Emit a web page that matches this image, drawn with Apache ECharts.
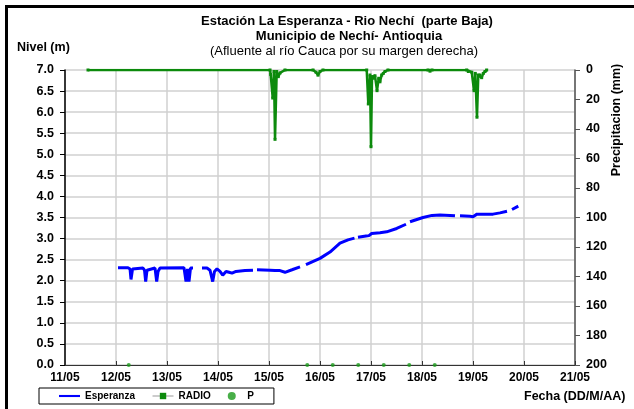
<!DOCTYPE html>
<html>
<head>
<meta charset="utf-8">
<script src="https://cdn.jsdelivr.net/npm/echarts@6/dist/echarts.min.js"></script>
<style>
html,body{margin:0;padding:0;background:#fff;}
#chart{width:634px;height:409px;}
</style>
</head>
<body>
<div id="chart"></div>
<script>
// X tick labels (days of May)
const xTickLabels = ['11/05','12/05','13/05','14/05','15/05','16/05','17/05','18/05','19/05','20/05','21/05'];

// Nivel (m) - Esperanza ; null = missing data (gap)
const levelDays = [12.039,12.235,12.275,12.294,12.324,12.529,12.559,12.582,12.608,12.765,12.798,12.824,12.863,
  13.333,13.373,13.402,13.431,13.461,13.510,13.600,
  13.686,13.784,13.843,13.896,13.931,13.980,14.039,14.092,14.157,14.216,14.275,14.353,14.529,14.686,14.725,
  14.765,15.020,15.118,15.216,15.314,15.451,15.608,15.667,
  15.725,16.000,16.196,16.392,16.549,16.676,16.710,
  16.745,16.902,16.961,17.013,17.176,17.308,17.504,17.686,17.725,
  17.765,18.020,18.196,18.353,18.549,18.647,18.700,
  18.745,18.941,19.000,19.078,19.137,19.392,19.529,19.667,19.716,
  19.765,19.888];
const levelValues = [2.31,2.31,2.28,2.03,2.28,2.30,2.25,1.98,2.25,2.30,1.98,2.22,2.30,
  2.31,1.98,2.28,1.98,2.30,2.30,null,
  2.30,2.30,2.25,1.98,2.22,2.28,2.22,2.13,2.22,2.20,2.18,2.22,2.24,2.25,null,
  2.26,2.25,2.24,2.24,2.20,2.26,2.33,null,
  2.38,2.53,2.68,2.89,2.97,3.01,null,
  3.03,3.06,3.07,3.12,3.14,3.16,3.24,3.34,null,
  3.40,3.50,3.55,3.56,3.55,3.54,null,
  3.54,3.53,3.52,3.58,3.58,3.58,3.61,3.65,null,
  3.69,3.77];

// Precipitacion (mm) - RADIO
const rainDays = [11.451,15.020,15.033,15.073,15.098,15.118,15.151,15.182,15.216,15.314,
  15.863,15.922,15.961,16.000,16.059,
  16.916,16.947,16.980,17.000,17.020,17.045,17.078,17.118,17.151,17.176,17.210,17.241,17.275,17.333,
  18.118,18.157,18.196,
  18.876,18.908,18.975,19.020,19.045,19.078,19.104,19.137,19.170,19.202,19.235,19.268];
const rainValues = [0,0,3,19,1,47,1,4.5,2,0,
  0,1.5,3.5,1,0,
  0,23,3.4,52,4.5,5.6,3.9,14,5.6,8,3.4,2.3,1,0,
  0,0.8,0,
  0,1,1.5,14,2.3,32,3.4,3.4,5.2,2.3,1,0];

// P points
const pDays = [12.25,15.75,16.25,16.75,17.25,17.75,18.25];
const pValues = [0,0,0,0,0,0,0];

const FONT = 'Liberation Sans, Arial, sans-serif';
const pair = (xs, ys) => xs.map((x, i) => [x, ys[i] === null ? '-' : ys[i]]);

const chart = echarts.init(document.getElementById('chart'), null, {renderer: 'canvas'});
chart.setOption({
  animation: false,
  backgroundColor: '#fff',
  grid: {left: 65, right: 59, top: 70, bottom: 44, containLabel: false},
  xAxis: {
    type: 'value', min: 11, max: 21, interval: 1,
    axisLine: {show: true, lineStyle: {color: '#333', width: 1}},
    axisTick: {show: true, inside: true, length: 4, lineStyle: {color: '#333'}},
    axisLabel: {
      margin: 7, color: '#000', fontFamily: FONT, fontWeight: 'bold', fontSize: 12,
      formatter: v => xTickLabels[Math.round(v - 11)] || ''
    },
    splitLine: {show: true, lineStyle: {color: '#d0d0d0', width: 1.5}}
  },
  yAxis: [
    {
      type: 'value', min: 0, max: 7, interval: 0.5,
      axisLine: {show: true, lineStyle: {color: '#000', width: 1.5}},
      axisTick: {show: true, length: 5, lineStyle: {color: '#000'}},
      axisLabel: {margin: 11, color: '#000', fontFamily: FONT, fontWeight: 'bold', fontSize: 12.5,
        formatter: v => v.toFixed(1)},
      splitLine: {show: true, lineStyle: {color: '#d0d0d0', width: 1.5}}
    },
    {
      type: 'value', min: 0, max: 200, interval: 20, inverse: true, position: 'right',
      axisLine: {show: true, lineStyle: {color: '#555', width: 1.5}},
      axisTick: {show: true, length: 5, lineStyle: {color: '#555'}},
      axisLabel: {margin: 11, color: '#000', fontFamily: FONT, fontWeight: 'bold', fontSize: 12.5},
      splitLine: {show: false}
    }
  ],
  legend: {
    left: 39, top: 388,
    orient: 'horizontal',
    padding: [3, 20, 3, 20],
    itemGap: 17, itemWidth: 21, itemHeight: 8,
    borderColor: '#000', borderWidth: 1, borderRadius: 0,
    backgroundColor: '#fff',
    textStyle: {fontFamily: FONT, fontWeight: 'bold', fontSize: 10, color: '#000'},
    data: [
      {name: 'Esperanza', icon: 'path://M0,0 L10,0 L10,1 L0,1 Z', itemStyle: {color: '#0000ff'}},
      {name: 'RADIO', lineStyle: {color: '#999', width: 1}, itemStyle: {color: '#0c8a0c'}},
      {name: 'P'}
    ]
  },
  series: [
    {
      name: 'Esperanza', type: 'line', yAxisIndex: 0,
      data: pair(levelDays, levelValues),
      showSymbol: false, symbol: 'none', connectNulls: false,
      lineStyle: {color: '#0000ff', width: 3},
      itemStyle: {color: '#0000ff'},
      z: 3
    },
    {
      name: 'RADIO', type: 'line', yAxisIndex: 1,
      data: pair(rainDays, rainValues),
      symbol: 'rect', symbolSize: 3, showSymbol: true,
      lineStyle: {color: '#0c8a0c', width: 2.5},
      itemStyle: {color: '#0c8a0c'},
      z: 4
    },
    {
      name: 'P', type: 'scatter', yAxisIndex: 0,
      data: pair(pDays, pValues),
      symbol: 'circle', symbolSize: 4,
      itemStyle: {color: '#1a9a1a'},
      z: 5
    }
  ],
  graphic: [
    {type: 'rect', silent: true, z: 100,
      shape: {x: 6.5, y: 6.5, width: 720, height: 520},
      style: {fill: 'none', stroke: '#000', lineWidth: 3}},
    {type: 'text', silent: true, x: 347, y: 21,
      style: {text: 'Estación La Esperanza - Rio Nechí  (parte Baja)', font: 'bold 13px ' + FONT, fill: '#000', textAlign: 'center', textVerticalAlign: 'middle'}},
    {type: 'text', silent: true, x: 349, y: 36,
      style: {text: 'Municipio de Nechí- Antioquia', font: 'bold 13px ' + FONT, fill: '#000', textAlign: 'center', textVerticalAlign: 'middle'}},
    {type: 'text', silent: true, x: 344, y: 51,
      style: {text: '(Afluente al río Cauca por su margen derecha)', font: '13px ' + FONT, fill: '#000', textAlign: 'center', textVerticalAlign: 'middle'}},
    {type: 'text', silent: true, x: 17, y: 48,
      style: {text: 'Nivel (m)', font: 'bold 12.5px ' + FONT, fill: '#000', textAlign: 'left', textVerticalAlign: 'middle'}},
    {type: 'text', silent: true, x: 617, y: 120, rotation: Math.PI / 2,
      style: {text: 'Precipitacion (mm)', font: 'bold 12.5px ' + FONT, fill: '#000', textAlign: 'center', textVerticalAlign: 'middle'}},
    {type: 'text', silent: true, x: 524, y: 397,
      style: {text: 'Fecha (DD/M/AA)', font: 'bold 12.5px ' + FONT, fill: '#000', textAlign: 'left', textVerticalAlign: 'middle'}}
  ]
});
</script>
</body>
</html>
